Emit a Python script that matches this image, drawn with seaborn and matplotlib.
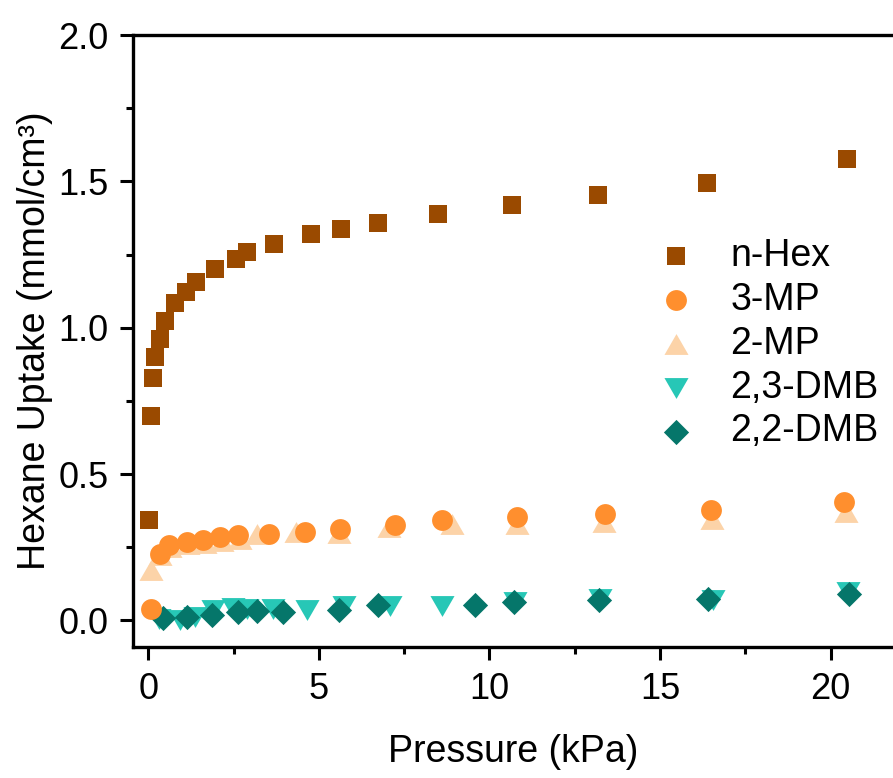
import numpy as np
import pandas as pd
import matplotlib
matplotlib.use("Agg")
import matplotlib.pyplot as plt
from matplotlib.ticker import MultipleLocator
import seaborn as sns

sns.set_theme(style="white")
plt.rcParams['font.family'] = ['Liberation Sans', 'DejaVu Sans']
plt.rcParams['text.color'] = 'black'
plt.rcParams['axes.labelcolor'] = 'black'
plt.rcParams['xtick.color'] = 'black'
plt.rcParams['ytick.color'] = 'black'

# ---- data ----
nhex_x = [0.03, 0.07, 0.13, 0.20, 0.33, 0.50, 0.79, 1.10, 1.39, 1.95, 2.56, 2.90, 3.69, 4.76, 5.65, 6.72, 8.50, 10.65, 13.19, 16.37, 20.47]
nhex_y = [0.342, 0.697, 0.828, 0.899, 0.960, 1.023, 1.083, 1.121, 1.157, 1.199, 1.235, 1.259, 1.287, 1.319, 1.336, 1.359, 1.390, 1.420, 1.453, 1.496, 1.575]

mp3_x = [0.07, 0.33, 0.59, 1.12, 1.61, 2.10, 2.64, 3.55, 4.59, 5.62, 7.23, 8.60, 10.80, 13.39, 16.48, 20.40]
mp3_y = [0.040, 0.226, 0.256, 0.268, 0.274, 0.285, 0.291, 0.294, 0.302, 0.313, 0.327, 0.344, 0.354, 0.365, 0.378, 0.406]

mp2_x = [0.08, 0.35, 0.62, 1.15, 1.65, 2.15, 2.68, 3.18, 4.32, 5.60, 7.04, 8.89, 10.80, 13.36, 16.53, 20.45]
mp2_y = [0.173, 0.225, 0.250, 0.260, 0.266, 0.270, 0.278, 0.296, 0.302, 0.300, 0.319, 0.330, 0.328, 0.336, 0.348, 0.370]

dmb23_x = [0.30, 0.93, 1.37, 1.90, 2.49, 2.88, 3.66, 4.64, 5.72, 7.08, 8.60, 10.75, 13.25, 16.55, 20.50]
dmb23_y = [0.005, 0.000, 0.011, 0.034, 0.043, 0.040, 0.040, 0.037, 0.048, 0.048, 0.048, 0.062, 0.072, 0.068, 0.098]

dmb22_x = [0.44, 1.14, 1.86, 2.64, 3.18, 3.96, 5.60, 6.72, 9.58, 10.72, 13.22, 16.41, 20.55]
dmb22_y = [0.009, 0.011, 0.017, 0.028, 0.031, 0.028, 0.037, 0.051, 0.054, 0.063, 0.068, 0.074, 0.091]

names = ["n-Hex", "3-MP", "2-MP", "2,3-DMB", "2,2-DMB"]
colors = {"n-Hex": "#9A4A00", "3-MP": "#FF8F2E", "2-MP": "#FCD3A8",
          "2,3-DMB": "#27C7B6", "2,2-DMB": "#05766A"}

tri_up = [(-1, -0.866), (1, -0.866), (0, 0.866)]
tri_dn = [(-1, 0.866), (1, 0.866), (0, -0.866)]
markers = {"n-Hex": "s", "3-MP": "o", "2-MP": tri_up, "2,3-DMB": tri_dn, "2,2-DMB": "D"}
sizes = {"n-Hex": 160, "3-MP": 225, "2-MP": 300, "2,3-DMB": 300, "2,2-DMB": 165}

series = {"n-Hex": (nhex_x, nhex_y), "3-MP": (mp3_x, mp3_y), "2-MP": (mp2_x, mp2_y),
          "2,3-DMB": (dmb23_x, dmb23_y), "2,2-DMB": (dmb22_x, dmb22_y)}

fig = plt.figure(figsize=(8.93, 7.78), dpi=100)
ax = fig.add_axes([0.149, 0.168, 0.851, 0.787])

draw_order = ["2,3-DMB", "2,2-DMB", "2-MP", "3-MP", "n-Hex"]
handles = {}
for nm in draw_order:
    xs, ys = series[nm]
    df = pd.DataFrame({"Pressure": xs, "Uptake": ys})
    sns.scatterplot(data=df, x="Pressure", y="Uptake", ax=ax, color=colors[nm],
                    marker=markers[nm], s=sizes[nm], linewidth=0, legend=False)
    coll = ax.collections[-1]
    coll.set_label(nm)
    handles[nm] = coll

ax.set_xlim(-0.45, 21.83)
ax.set_ylim(-0.092, 2.0)
ax.xaxis.set_major_locator(MultipleLocator(5))
ax.xaxis.set_minor_locator(MultipleLocator(2.5))
ax.yaxis.set_major_locator(MultipleLocator(0.5))
ax.yaxis.set_minor_locator(MultipleLocator(0.25))
ax.set_yticks([0, 0.5, 1.0, 1.5, 2.0])
ax.set_yticklabels(["0.0", "0.5", "1.0", "1.5", "2.0"])
ax.set_xticks([0, 5, 10, 15, 20])
ax.set_xticklabels(["0", "5", "10", "15", "20"])

ax.tick_params(which="major", direction="out", length=9.5, width=2.2, labelsize=26,
               color="black", labelcolor="black", pad=8, bottom=True, left=True)
ax.tick_params(which="minor", direction="out", length=5, width=2.2, color="black",
               bottom=True, left=True)
for side in ["left", "bottom", "top"]:
    ax.spines[side].set_visible(True)
    ax.spines[side].set_linewidth(2.4)
    ax.spines[side].set_color("black")
ax.spines["right"].set_visible(False)

ax.set_xlabel("Pressure (kPa)", fontsize=27, labelpad=20, color="black")
ax.set_ylabel("Hexane Uptake (mmol/cm³)", fontsize=27, labelpad=4, color="black")

leg = ax.legend([handles[n] for n in names], names, loc="upper left",
                bbox_to_anchor=(0.665, 0.693), frameon=False, fontsize=27,
                handletextpad=0.85, labelspacing=0.21, borderaxespad=0, handlelength=1.2)
for t in leg.get_texts():
    t.set_color("black")

fig.savefig("out.png", dpi=100)
